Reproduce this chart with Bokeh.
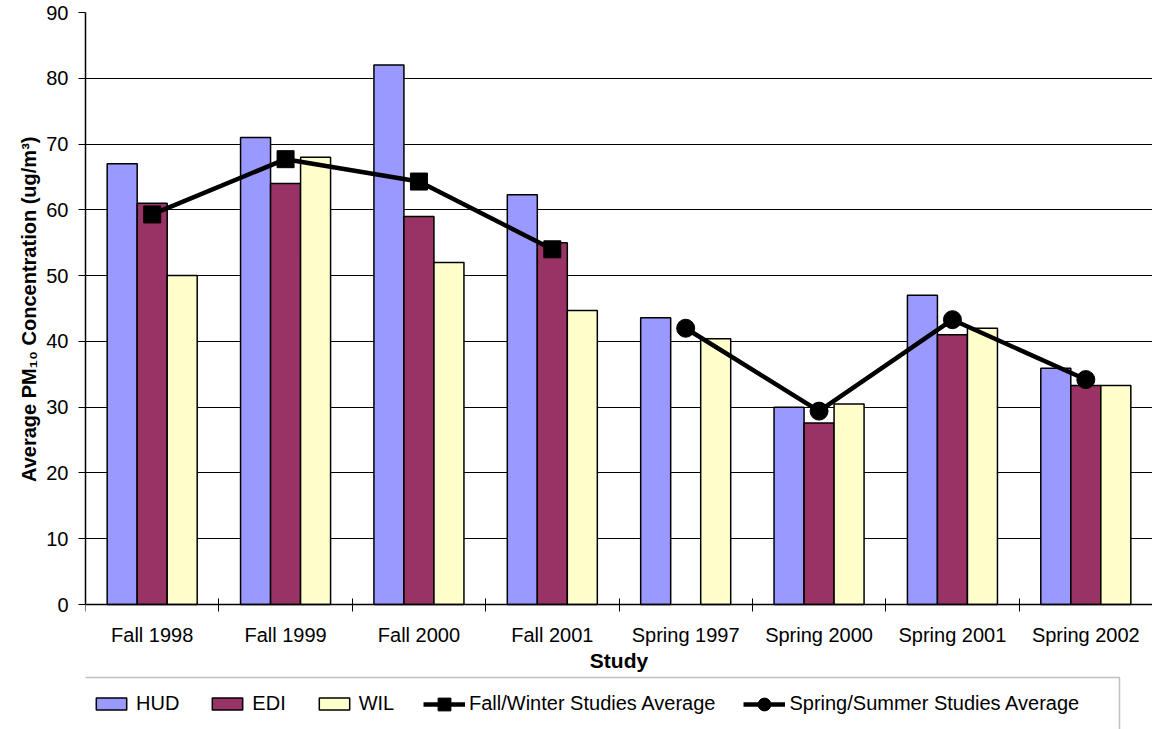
from math import nan

from bokeh.plotting import figure
from bokeh.models import (ColumnDataSource, Range1d, FixedTicker, Legend,
                          LegendItem, BoxAnnotation, Title)
from bokeh.transform import dodge
from bokeh.embed import file_html
from bokeh.resources import INLINE

# Average PM10 concentration (ug/m3) by study and site
studies = ["Fall 1998", "Fall 1999", "Fall 2000", "Fall 2001",
           "Spring 1997", "Spring 2000", "Spring 2001", "Spring 2002"]
hud = [67.0, 71.0, 82.0, 62.3, 43.6, 30.0, 47.0, 35.9]
edi = [61.0, 64.0, 59.0, 55.0, nan, 27.6, 41.0, 33.3]
wil = [50.0, 68.0, 52.0, 44.7, 40.4, 30.5, 42.0, 33.3]

fall_studies = studies[:4]
fall_avg = [59.3, 67.7, 64.3, 54.0]
spring_studies = studies[4:]
spring_avg = [42.0, 29.4, 43.3, 34.2]

y_ticks = list(range(0, 91, 10))

FONT = "Liberation Sans"
BAR_W = 0.225
HUD_C, EDI_C, WIL_C = "#9999FF", "#993366", "#FFFFCC"
LINE_W = 4.5

# page geometry in pixels
W, H = 1152, 729
PLOT_LEFT, PLOT_TOP, AXIS_Y = 85, 12, 604   # frame left/top, pixel row of y = 0
KEY_TOP = 677
Y_MAX = 90
# extend the value range below zero so the frame also covers the key strip
Y_MIN = -Y_MAX * (H - AXIS_Y) / (AXIS_Y - PLOT_TOP)

# each study occupies one unit on a numeric x scale, centred at i + 0.5
pos = {s: i + 0.5 for i, s in enumerate(studies)}
centers = [pos[s] for s in studies]
bounds = list(range(len(studies) + 1))

src = ColumnDataSource(dict(x=centers, hud=hud, edi=edi, wil=wil))
fall_src = ColumnDataSource(dict(x=[pos[s] for s in fall_studies], y=fall_avg))
spring_src = ColumnDataSource(dict(x=[pos[s] for s in spring_studies], y=spring_avg))

p = figure(width=W, height=H, output_backend="svg", toolbar_location=None,
           x_range=Range1d(0, len(studies)), y_range=Range1d(Y_MIN, Y_MAX),
           min_border_left=PLOT_LEFT, min_border_right=0, min_border_top=PLOT_TOP,
           min_border_bottom=0)
p.outline_line_color = None
p.background_fill_color = "white"
p.border_fill_color = "white"

bar_kw = dict(width=BAR_W, line_color="black", line_width=1.5, source=src)
r_hud = p.vbar(x=dodge("x", -BAR_W, range=p.x_range), top="hud", fill_color=HUD_C, **bar_kw)
r_edi = p.vbar(x="x", top="edi", fill_color=EDI_C, **bar_kw)
r_wil = p.vbar(x=dodge("x", BAR_W, range=p.x_range), top="wil", fill_color=WIL_C, **bar_kw)

r_fall_l = p.line("x", "y", source=fall_src, line_color="black", line_width=LINE_W)
r_fall_m = p.scatter("x", "y", source=fall_src, marker="square", size=17,
                     fill_color="black", line_color="black")
r_spr_l = p.line("x", "y", source=spring_src, line_color="black", line_width=LINE_W)
r_spr_m = p.scatter("x", "y", source=spring_src, marker="circle", size=18,
                    fill_color="black", line_color="black")

# grid
p.xgrid.visible = False
p.ygrid.ticker = FixedTicker(ticks=y_ticks)
p.ygrid.grid_line_color = "black"
p.ygrid.grid_line_width = 1

# x axis pinned at y = 0: labels at study centres, ticks between studies
xa = p.xaxis[0]
xa.fixed_location = 0
xa.ticker = FixedTicker(ticks=centers, minor_ticks=bounds)
xa.major_label_overrides = {c: s for c, s in zip(centers, studies)}
xa.major_tick_in = 0
xa.major_tick_out = 0
xa.minor_tick_in = 6
xa.minor_tick_out = 7
xa.minor_tick_line_color = "black"
xa.minor_tick_line_width = 1
xa.axis_line_color = "black"
xa.axis_line_width = 1.5
xa.major_label_text_font = FONT
xa.major_label_text_font_size = "20px"
xa.major_label_text_color = "black"
xa.major_label_standoff = 12
xa.axis_label = "Study"
xa.axis_label_text_font = FONT
xa.axis_label_text_font_size = "21px"
xa.axis_label_text_font_style = "bold"
xa.axis_label_text_color = "black"
xa.axis_label_standoff = 0

# y axis, drawn only over 0..90
ya = p.yaxis[0]
ya.bounds = (0, Y_MAX)
ya.ticker = FixedTicker(ticks=y_ticks)
ya.minor_tick_line_color = None
ya.major_tick_in = 0
ya.major_tick_out = 7
ya.major_tick_line_color = "black"
ya.axis_line_color = "black"
ya.axis_line_width = 1.5
ya.major_label_text_font = FONT
ya.major_label_text_font_size = "20px"
ya.major_label_text_color = "black"
ya.major_label_standoff = 10

# value-axis title, centred on the 0..90 span rather than on the whole frame
y_title = "Average PM\u2081\u2080 Concentration (ug/m\u00b3)"
title_len = 347                      # approximate rendered length in px
mid_y = (PLOT_TOP + AXIS_Y) / 2
p.add_layout(Title(text=y_title, align="left", offset=H - (mid_y + title_len / 2),
                   text_font=FONT, text_font_size="20px", text_font_style="bold",
                   text_color="black", standoff=7), "left")

# ---------------------------------------------------------------- key
# frame of the key (screen units, measured from the plot frame's lower left)
p.add_layout(BoxAnnotation(left=76 - PLOT_LEFT, right=1119 - PLOT_LEFT, bottom=-10,
                           top=H - KEY_TOP,
                           left_units="screen", right_units="screen",
                           bottom_units="screen", top_units="screen",
                           fill_color="white", fill_alpha=1.0,
                           line_color="#333333", line_width=1.5, level="overlay"))


def make_legend(items, loc, gw, gh, standoff, spacing):
    leg = Legend(items=items, orientation="horizontal", location=loc)
    leg.label_text_font = FONT
    leg.label_text_font_size = "20px"
    leg.label_text_color = "black"
    leg.label_height = 24
    leg.glyph_width = gw
    leg.glyph_height = gh
    leg.label_standoff = standoff
    leg.spacing = spacing
    leg.padding = 0
    leg.margin = 0
    leg.border_line_color = None
    leg.background_fill_alpha = 0
    return leg


bars_key = make_legend([
    LegendItem(label="HUD", renderers=[r_hud]),
    LegendItem(label="EDI", renderers=[r_edi]),
    LegendItem(label="WIL", renderers=[r_wil]),
], (92 - PLOT_LEFT, 13.5), 38, 15, 6, 29)

lines_key = make_legend([
    LegendItem(label="Fall/Winter Studies Average", renderers=[r_fall_l, r_fall_m]),
    LegendItem(label="Spring/Summer Studies Average", renderers=[r_spr_l, r_spr_m]),
], (423 - PLOT_LEFT, 9.5), 42, 32, 4, 28)

p.add_layout(bars_key)
p.add_layout(lines_key)

open("out.html", "w").write(file_html(p, INLINE))
